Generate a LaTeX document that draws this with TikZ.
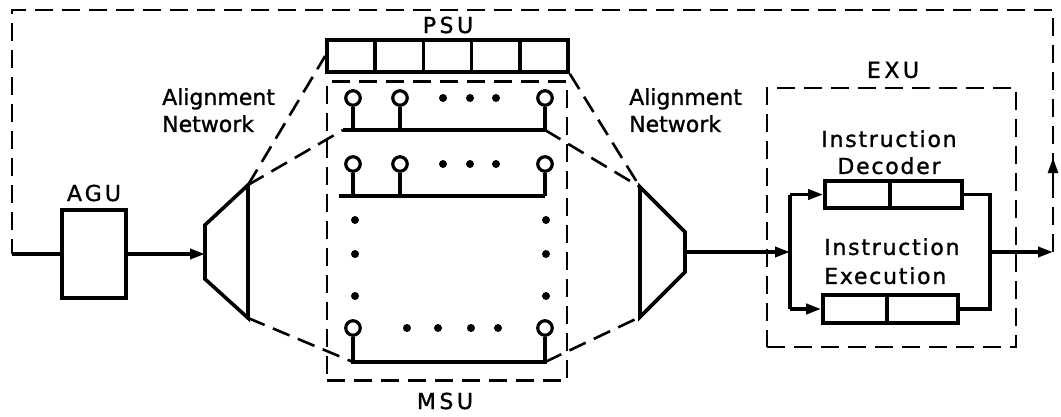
\documentclass[tikz,border=0pt]{standalone}
\usepackage{fontspec}
\setmainfont[FakeBold=1.2]{DejaVu Sans}
\usetikzlibrary{arrows.meta}
\begin{document}
\begin{tikzpicture}[x=1pt,y=-1pt,
  thickline/.style={line width=3.6pt},
  dashline/.style={line width=2.6pt, dash pattern=on 18pt off 9pt},
  arr/.style={-{Triangle[length=15pt,width=10pt]}},
  lbl/.style={font=\fontsize{22}{27}\selectfont, inner sep=0pt},
  cell/.style={draw, line width=3.6pt, minimum height=32pt, minimum width=48.2pt, inner sep=0pt},
  port/.style={draw, circle, line width=3.2pt, minimum size=14.5pt, inner sep=0pt},
  dot/.style={fill, circle, minimum size=8pt, inner sep=0pt},
  ireg/.style={draw, line width=3.6pt, inner sep=0pt}]
\useasboundingbox (0,0) rectangle (1061,416);

% ---------- AGU ----------
\node[draw, line width=3.6pt, minimum width=64pt, minimum height=88pt, inner sep=0pt] (agu) at (94,254) {};
\node[lbl, font=\fontsize{22}{27}\selectfont\addfontfeature{LetterSpace=14}] (agul) at (94,193) {AGU};

% ---------- left alignment network ----------
\coordinate (tl1) at (205,225);
\coordinate (tl2) at (248,185);
\coordinate (tl3) at (248,318);
\coordinate (tl4) at (205,279);
\coordinate (tlin) at (205,254);
\draw[thickline, line join=miter] (tl1) -- (tl2) -- (tl3) -- (tl4) -- cycle;
\node[lbl, anchor=north west, align=left] (anl) at (162,88) {Alignment\\Network};

% ---------- PSU ----------
\foreach \i in {1,...,5} {
  \node[cell] (psu\i) at ({327+48.2*(\i-0.5)},56) {};
}
\node[lbl, font=\fontsize{22}{27}\selectfont\addfontfeature{LetterSpace=16}] (psul) at (448,25) {PSU};

% ---------- MSU ----------
\node[draw, dashline, minimum width=240pt, minimum height=299pt, inner sep=0pt] (msu) at (447,231) {};
\node[lbl, font=\fontsize{22}{27}\selectfont\addfontfeature{LetterSpace=16}] (msul) at (445,401) {MSU};

% row 1
\node[port] (c11) at (353,98) {};
\node[port] (c12) at (400,98) {};
\node[port] (c13) at (545,98) {};
\coordinate (b1l) at (343,130);
\coordinate (b1r) at (545,130);
\draw[thickline] (b1l) -- (b1r);
\draw[thickline] (c11.south) -- (c11.south |- b1l);
\draw[thickline] (c12.south) -- (c12.south |- b1l);
\draw[thickline] (c13.south) -- (c13.south |- b1l);
\foreach \x [count=\k] in {443,470,496} \node[dot] (d1\k) at (\x,98) {};

% row 2
\node[port] (c21) at (353,164) {};
\node[port] (c22) at (400,164) {};
\node[port] (c23) at (545,164) {};
\coordinate (b2l) at (339,196);
\coordinate (b2r) at (545,196);
\draw[thickline] (b2l) -- (b2r);
\draw[thickline] (c21.south) -- (c21.south |- b2l);
\draw[thickline] (c22.south) -- (c22.south |- b2l);
\draw[thickline] (c23.south) -- (c23.south |- b2l);
\foreach \x [count=\k] in {443,470,496} \node[dot] (d2\k) at (\x,164) {};

% vertical dots
\foreach \y [count=\k] in {220,254,296} {
  \node[dot] (vl\k) at (355,\y) {};
  \node[dot] (vr\k) at (546,\y) {};
}

% row 3
\node[port] (c31) at (353,328) {};
\node[port] (c32) at (545,328) {};
\coordinate (b3l) at (353,362);
\coordinate (b3r) at (545,362);
\draw[thickline] (c31.south) -- (b3l) -- (b3r) -- (c32.south);
\foreach \x [count=\k] in {407,438,471,498} \node[dot] (d3\k) at (\x,328) {};

% ---------- right alignment network ----------
\coordinate (tr1) at (640,187);
\coordinate (tr2) at (685,232);
\coordinate (tr3) at (685,272);
\coordinate (tr4) at (640,317);
\coordinate (trout) at (685,252);
\draw[thickline, line join=miter] (tr1) -- (tr2) -- (tr3) -- (tr4) -- cycle;
\node[lbl, anchor=north west, align=left] (anr) at (629,88) {Alignment\\Network};

% dashed fan lines
\draw[dashline] (tl2) -- (psu1.west);
\draw[dashline] (tl2) -- (b1l);
\draw[dashline] (tl3) -- (b3l);
\draw[dashline] (psu5.south east) -- (tr1);
\draw[dashline] (b1r) -- (tr1);
\draw[dashline] (b3r) -- (tr4);

% ---------- EXU ----------
\node[draw, dashline, minimum width=249pt, minimum height=259pt, inner sep=0pt] (exu) at (891.5,217.5) {};
\node[lbl, font=\fontsize{22}{27}\selectfont\addfontfeature{LetterSpace=16}] (exul) at (893,70) {EXU};

\node[ireg, minimum width=65pt, minimum height=27pt] (dec1) at (857.5,194.5) {};
\node[ireg, minimum width=72pt, minimum height=27pt] (dec2) at (926,194.5) {};
\node[ireg, minimum width=64pt, minimum height=28pt] (exe1) at (855,309) {};
\node[ireg, minimum width=71pt, minimum height=28pt] (exe2) at (922.5,309) {};
\node[lbl, anchor=north, align=center, font=\fontsize{22}{27}\selectfont\addfontfeature{LetterSpace=8}] (decl) at (889,130) {Instruction\\Decoder};
\node[lbl, anchor=north west, align=left, font=\fontsize{22}{29}\selectfont\addfontfeature{LetterSpace=8}] (exel) at (824,238) {Instruction\\Execution};

\coordinate (jn) at (790,252);
\coordinate (jo) at (990,252);
\coordinate (outr) at (1053,252);
\coordinate (topr) at (1053,10);
\coordinate (topl) at (12,10);
\coordinate (botl) at (12,254);
\coordinate (up1) at (1053,182);
\coordinate (up2) at (1053,158);

% ---------- connectors ----------
\draw[thickline, arr] (agu.east) -- (tlin);
\draw[thickline, arr] (trout) -- (jn);
\draw[thickline] (jn |- dec1.west) -- (jn |- exe1.west);
\draw[thickline, arr] (jn |- dec1.west) -- (dec1.west);
\draw[thickline, arr] (jn |- exe1.west) -- (exe1.west);
\draw[thickline] (dec2.east) -- (jo |- dec2.east) -- (jo |- exe2.east) -- (exe2.east);
\draw[thickline, arr] (jo) -- (outr);
\draw[dashline] (outr) -- (topr) -- (topl) -- (botl);
\draw[line width=2.6pt, arr] (up1) -- (up2);
\draw[thickline] (botl) -- (agu.west);
\end{tikzpicture}
\end{document}
